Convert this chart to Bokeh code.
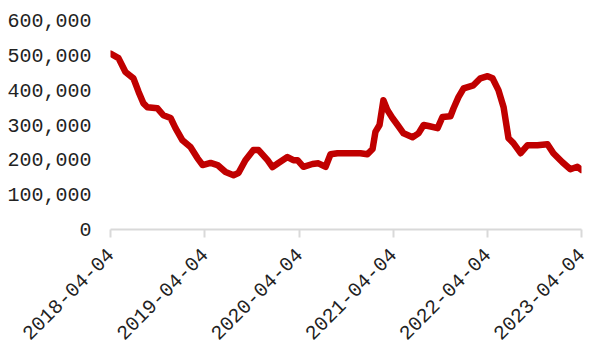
import pandas as pd
from bokeh.plotting import figure
from bokeh.models import Range1d, FixedTicker, DatetimeTickFormatter, NumeralTickFormatter
from bokeh.embed import file_html
from bokeh.resources import INLINE
from math import pi

# weekly series, read at turning points
dates = ["2018-04-04", "2018-05-05", "2018-06-01", "2018-07-02", "2018-07-22", "2018-08-10",
         "2018-08-25", "2018-10-03", "2018-10-26", "2018-11-23", "2018-12-12", "2019-01-08",
         "2019-02-08", "2019-03-07", "2019-03-27", "2019-04-27", "2019-05-24", "2019-06-24",
         "2019-07-25", "2019-08-13", "2019-09-09", "2019-10-10", "2019-10-30", "2019-12-04",
         "2019-12-23", "2020-01-15", "2020-02-19", "2020-03-13", "2020-03-29", "2020-04-21",
         "2020-05-26", "2020-06-18", "2020-07-16", "2020-08-04", "2020-08-31", "2020-11-28",
         "2020-12-25", "2021-01-14", "2021-01-25", "2021-02-10", "2021-02-25", "2021-03-13",
         "2021-04-01", "2021-04-21", "2021-05-14", "2021-06-18", "2021-07-11", "2021-07-31",
         "2021-08-19", "2021-09-23", "2021-10-12", "2021-11-12", "2021-11-24", "2021-12-13",
         "2022-01-02", "2022-02-09", "2022-03-08", "2022-04-05", "2022-04-24", "2022-05-17",
         "2022-06-06", "2022-06-25", "2022-07-14", "2022-08-11", "2022-09-07", "2022-10-15",
         "2022-11-23", "2022-12-16", "2023-01-20", "2023-02-20", "2023-03-19", "2023-04-04"]

values = [505000, 492000, 452000, 434000, 395000, 362000,
          351000, 348000, 328000, 320000, 291000, 256000,
          237000, 205000, 185000, 191000, 185000, 165000,
          156000, 162000, 199000, 228000, 228000, 199000,
          179000, 191000, 208000, 199000, 199000, 180000,
          188000, 190000, 180000, 216000, 219000, 219000,
          216000, 231000, 280000, 300000, 371000, 342000,
          320000, 300000, 276000, 265000, 276000, 300000,
          297000, 291000, 323000, 325000, 348000, 380000,
          405000, 414000, 434000, 440000, 434000, 400000,
          351000, 262000, 248000, 219000, 242000, 242000,
          245000, 219000, 193000, 173000, 180000, 171000]

tick_labels = ["2018-04-04", "2019-04-04", "2020-04-04", "2021-04-04", "2022-04-04", "2023-04-04"]
y_ticks = [0, 100000, 200000, 300000, 400000, 500000, 600000]

x = pd.to_datetime(dates)
tick_ms = [pd.Timestamp(t).value // 10**6 for t in tick_labels]

p = figure(width=590, height=349, output_backend="svg", toolbar_location=None,
           x_axis_type="datetime",
           x_range=Range1d(tick_ms[0], tick_ms[-1]),
           y_range=Range1d(0, 600000),
           min_border_left=110, min_border_right=9, min_border_top=20, min_border_bottom=120)
p.outline_line_color = None
p.xgrid.visible = False
p.ygrid.visible = False
p.background_fill_color = "white"
p.border_fill_color = "white"

p.line(x, values, line_color="#C00000", line_width=6.5, line_join="round", line_cap="round")

label_font = "Liberation Mono"
text_col = "#222222"

xa = p.xaxis[0]
xa.ticker = FixedTicker(ticks=tick_ms)
fmt = "%Y-%m-%d"
xa.formatter = DatetimeTickFormatter(microseconds=fmt, milliseconds=fmt, seconds=fmt,
                                     minsec=fmt, minutes=fmt, hourmin=fmt, hours=fmt,
                                     days=fmt, months=fmt, years=fmt)
xa.major_label_orientation = pi / 4
xa.axis_line_color = "#D9D9D9"
xa.axis_line_width = 2
xa.major_tick_line_color = "#D9D9D9"
xa.major_tick_line_width = 2
xa.major_tick_out = 8
xa.major_tick_in = 0
xa.minor_tick_line_color = None
xa.major_label_text_font = label_font
xa.major_label_text_font_size = "20px"
xa.major_label_text_color = text_col
xa.major_label_standoff = 14

ya = p.yaxis[0]
ya.ticker = FixedTicker(ticks=y_ticks)
ya.formatter = NumeralTickFormatter(format="0,0")
ya.axis_line_color = None
ya.major_tick_line_color = None
ya.minor_tick_line_color = None
ya.major_label_text_font = label_font
ya.major_label_text_font_size = "20px"
ya.major_label_text_color = text_col
ya.major_label_standoff = 13

open("out.html", "w").write(file_html(p, INLINE))
